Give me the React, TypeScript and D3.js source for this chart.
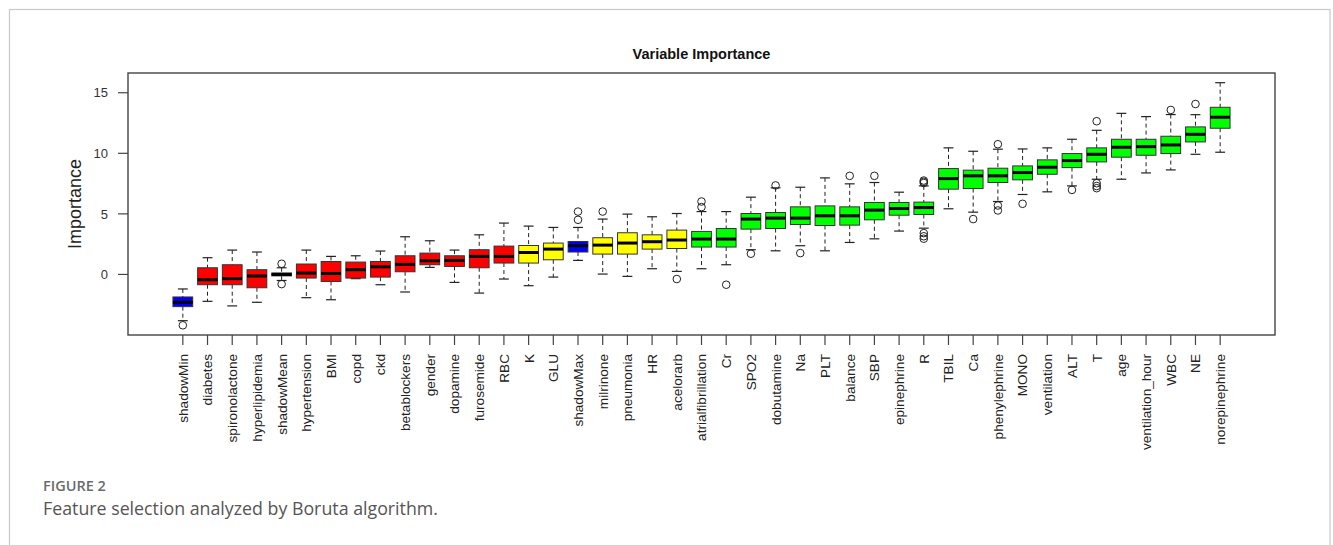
import React from "react";
import * as d3 from "d3";

// Boruta attribute importance, one box per attribute (sorted by median)
const attributes = [
  "shadowMin", "diabetes", "spironolactone", "hyperlipidemia", "shadowMean",
  "hypertension", "BMI", "copd", "ckd", "betablockers", "gender", "dopamine",
  "furosemide", "RBC", "K", "GLU", "shadowMax", "milrinone", "pneumonia", "HR",
  "acelorarb", "atrialfibrillation", "Cr", "SPO2", "dobutamine", "Na", "PLT",
  "balance", "SBP", "epinephrine", "R", "TBIL", "Ca", "phenylephrine", "MONO",
  "ventilation", "ALT", "T", "age", "ventilation_hour", "WBC", "NE", "norepinephrine",
];

// S = shadow, X = rejected, T = tentative, C = confirmed
const decisions = [
  "S", "X", "X", "X", "S", "X", "X", "X", "X", "X", "X", "X", "X", "X", "T", "T",
  "S", "T", "T", "T", "T", "C", "C", "C", "C", "C", "C", "C", "C", "C", "C", "C",
  "C", "C", "C", "C", "C", "C", "C", "C", "C", "C", "C",
];

const whiskerLow = [
  -3.82, -2.22, -2.6, -2.3, -0.5, -1.92, -2.09, -0.35, -0.85, -1.45, 0.58, -0.66,
  -1.54, -0.38, -0.93, -0.22, 1.16, 0.03, -0.16, 0.47, 0.25, 0.47, 0.8, 2.04,
  1.95, 2.37, 1.95, 2.64, 2.94, 3.58, 3.82, 5.42, 5.14, 6.02, 6.6, 6.82, 7.31,
  7.86, 7.86, 8.38, 8.63, 9.92, 10.09,
];
const quartile1 = [
  -2.66, -0.85, -0.85, -1.1, -0.12, -0.3, -0.58, -0.3, -0.22, 0.22, 0.8, 0.66,
  0.55, 0.94, 0.94, 1.21, 1.85, 1.68, 1.68, 2.09, 2.14, 2.26, 2.26, 3.74, 3.79,
  4.12, 4.04, 4.07, 4.51, 4.89, 4.95, 7.04, 7.09, 7.59, 7.81, 8.27, 8.82, 9.29,
  9.68, 9.84, 9.98, 10.94, 12.07,
];
const medians = [
  -2.3, -0.44, -0.35, -0.13, 0.0, 0.11, 0.08, 0.39, 0.63, 0.83, 1.13, 1.16, 1.49,
  1.49, 1.81, 2.09, 2.37, 2.42, 2.59, 2.7, 2.84, 2.92, 2.92, 4.57, 4.65, 4.65,
  4.84, 4.84, 5.31, 5.44, 5.52, 7.91, 8.14, 8.14, 8.41, 8.85, 9.4, 9.92, 10.5,
  10.55, 10.69, 11.57, 12.98,
];
const quartile3 = [
  -1.86, 0.55, 0.8, 0.39, 0.12, 0.86, 1.07, 1.02, 1.07, 1.54, 1.76, 1.54, 2.04,
  2.34, 2.39, 2.59, 2.72, 3.03, 3.44, 3.27, 3.66, 3.55, 3.79, 5.03, 5.11, 5.58,
  5.66, 5.58, 5.94, 5.94, 5.97, 8.74, 8.61, 8.77, 8.96, 9.46, 9.98, 10.45, 11.16,
  11.16, 11.41, 12.18, 13.8,
];
const whiskerHigh = [
  -1.2, 1.38, 2.01, 1.85, 0.55, 2.01, 1.49, 1.54, 1.93, 3.11, 2.78, 2.01, 3.27,
  4.24, 3.99, 3.88, 3.88, 4.57, 4.98, 4.76, 5.03, 5.19, 5.19, 6.38, 7.15, 7.2,
  7.97, 7.48, 7.59, 6.79, 7.31, 10.45, 10.17, 10.34, 10.36, 10.45, 11.16, 11.9,
  13.3, 13.03, 13.2, 13.19, 15.83,
];
const outliers: number[][] = [
  [-4.2], [], [], [], [0.88, -0.8], [], [], [], [], [], [], [], [], [], [], [],
  [4.51, 5.19], [5.19], [], [], [-0.38], [5.56, 6.02], [-0.85], [1.71], [7.35],
  [1.76], [], [8.14], [8.14], [], [7.55, 7.65, 7.75, 3.41, 3.15, 2.95], [],
  [4.57], [10.75, 5.69, 5.28], [5.83], [], [6.98], [12.65, 7.53, 7.3, 7.12], [],
  [], [13.58], [14.07], [],
];

const yTicks = [0, 5, 10, 15];

const fillFor: Record<string, string> = {
  S: "#0000ff",
  X: "#ff0000",
  T: "#ffff00",
  C: "#00ff00",
};

const W = 1333;
const H = 545;
const plot = { left: 128, right: 1275, top: 73, bottom: 335 };
const n = attributes.length;

export default function App() {
  // R-style ranges: categories at 1..n, limits [0.5, n + 0.5] widened by 4%
  const x = d3
    .scaleLinear()
    .domain([0.5 - 0.04 * n, n + 0.5 + 0.04 * n])
    .range([plot.left, plot.right]);
  const allVals = [...whiskerLow, ...whiskerHigh, ...outliers.flat()];
  const lo = d3.min(allVals)!;
  const hi = d3.max(allVals)!;
  const pad = (hi - lo) * 0.04;
  const y = d3
    .scaleLinear()
    .domain([lo - pad, hi + pad])
    .range([plot.bottom, plot.top]);

  const step = x(2) - x(1);
  const boxW = step * 0.8;
  const capW = boxW * 0.5;
  const axisFont = "'Liberation Sans', Arial, sans-serif";

  return (
    <svg
      width={W}
      height={H}
      style={{ position: "absolute", left: 0, top: 0, background: "#fff" }}
    >
      <rect x={9.5} y={9.5} width={1320.5} height={560} fill="none" stroke="#c9c9c9" strokeWidth={1.2} />

      <text
        x={(plot.left + plot.right) / 2}
        y={59}
        textAnchor="middle"
        fontFamily={axisFont}
        fontWeight="bold"
        fontSize={14.5}
        fill="#111"
      >
        Variable Importance
      </text>

      {/* boxes */}
      {attributes.map((name, i) => {
        const cx = x(i + 1);
        const fill = fillFor[decisions[i]];
        const yq1 = y(quartile1[i]);
        const yq3 = y(quartile3[i]);
        return (
          <g key={name}>
            <line x1={cx} x2={cx} y1={y(whiskerHigh[i])} y2={yq3} stroke="#222" strokeWidth={1} strokeDasharray="4,3" />
            <line x1={cx} x2={cx} y1={yq1} y2={y(whiskerLow[i])} stroke="#222" strokeWidth={1} strokeDasharray="4,3" />
            <line x1={cx - capW / 2} x2={cx + capW / 2} y1={y(whiskerHigh[i])} y2={y(whiskerHigh[i])} stroke="#222" strokeWidth={1.2} />
            <line x1={cx - capW / 2} x2={cx + capW / 2} y1={y(whiskerLow[i])} y2={y(whiskerLow[i])} stroke="#222" strokeWidth={1.2} />
            <rect
              x={cx - boxW / 2}
              y={yq3}
              width={boxW}
              height={Math.max(yq1 - yq3, 0.5)}
              fill={fill}
              stroke="#333"
              strokeWidth={1}
            />
            <line x1={cx - boxW / 2} x2={cx + boxW / 2} y1={y(medians[i])} y2={y(medians[i])} stroke="#000" strokeWidth={3} />
            {outliers[i].map((v, k) => (
              <circle key={k} cx={cx} cy={y(v)} r={3.8} fill="none" stroke="#222" strokeWidth={1} />
            ))}
          </g>
        );
      })}

      {/* frame */}
      <rect
        x={plot.left}
        y={plot.top}
        width={plot.right - plot.left}
        height={plot.bottom - plot.top}
        fill="none"
        stroke="#444"
        strokeWidth={1.4}
      />

      {/* y axis */}
      {yTicks.map((t) => (
        <g key={t}>
          <line x1={plot.left - 10} x2={plot.left} y1={y(t)} y2={y(t)} stroke="#444" strokeWidth={1.2} />
          <text
            x={108}
            y={y(t)}
            dy="0.36em"
            textAnchor="end"
            fontFamily={axisFont}
            fontSize={13}
            fill="#333"
          >
            {t}
          </text>
        </g>
      ))}
      <text
        transform={`translate(81,${(plot.top + plot.bottom) / 2}) rotate(-90)`}
        textAnchor="middle"
        fontFamily={axisFont}
        fontSize={18}
        fill="#222"
      >
        Importance
      </text>

      {/* x axis */}
      {attributes.map((name, i) => {
        const cx = x(i + 1);
        return (
          <g key={name}>
            <line x1={cx} x2={cx} y1={plot.bottom} y2={plot.bottom + 10} stroke="#444" strokeWidth={1.2} />
            <text
              transform={`translate(${cx},354) rotate(-90)`}
              dy="0.36em"
              textAnchor="end"
              fontFamily={axisFont}
              fontSize={13.6}
              fill="#222"
            >
              {name}
            </text>
          </g>
        );
      })}

      {/* caption */}
      <text x={43} y={491} fontFamily="'Open Sans', sans-serif" fontWeight={600} fontSize={14.5} fill="#6b6b6b">
        FIGURE 2
      </text>
      <text x={43} y={515} fontFamily="'Open Sans', sans-serif" fontSize={17.8} fill="#555">
        Feature selection analyzed by Boruta algorithm.
      </text>
    </svg>
  );
}
